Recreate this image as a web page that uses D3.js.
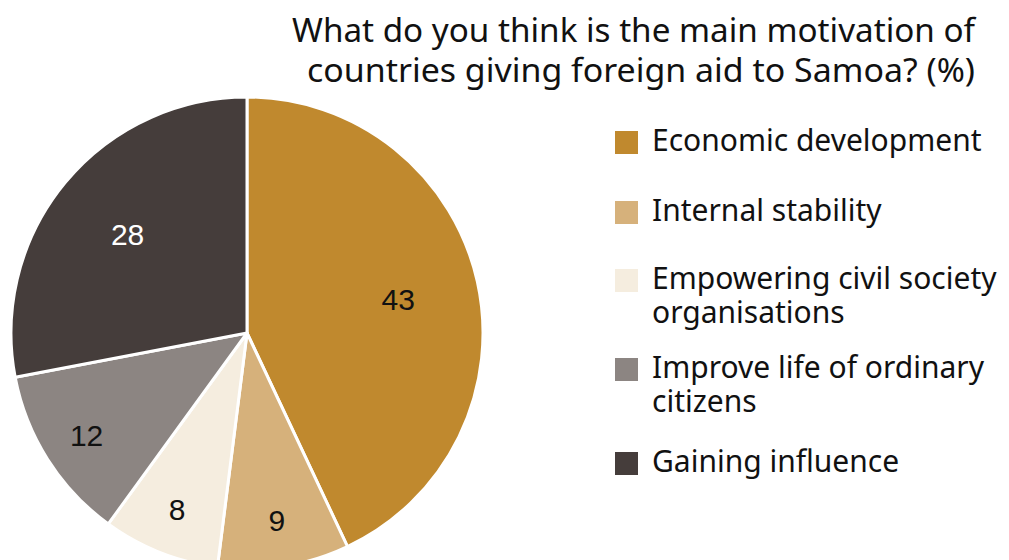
<!DOCTYPE html>
<html>
<head>
<meta charset="utf-8">
<script src="https://cdn.jsdelivr.net/npm/d3@7"></script>
<style>
  html, body { margin: 0; padding: 0; background: #fff; }
  svg { display: block; }
</style>
</head>
<body>
<svg id="chart" width="1009" height="560"></svg>
<script>
// Survey answers (%)
const categories = [
  "Economic development",
  "Internal stability",
  "Empowering civil society organisations",
  "Improve life of ordinary citizens",
  "Gaining influence"
];
const values = [43, 9, 8, 12, 28];
const legendLines = [
  ["Economic development"],
  ["Internal stability"],
  ["Empowering civil society", "organisations"],
  ["Improve life of ordinary", "citizens"],
  ["Gaining influence"]
];
const colors = ["#C0892E", "#D6B17B", "#F5EDDF", "#8C8582", "#453D3B"];
const labelColors = ["#111", "#111", "#111", "#111", "#fff"];
const titleLines = [
  "What do you think is the main motivation of",
  "countries giving foreign aid to Samoa? (%)"
];

const svg = d3.select("#chart");
const cx = 247, cy = 333, radius = 236;

const data = categories.map((c, i) => ({ category: c, value: values[i], i }));

const pie = d3.pie().value(d => d.value).sort(null);
const arc = d3.arc().innerRadius(0).outerRadius(radius);
// small slices carry their label further out
const bigLabelArc = d3.arc().innerRadius(155).outerRadius(155);
const smallLabelArc = d3.arc().innerRadius(190).outerRadius(190);

const color = d3.scaleOrdinal().domain(categories).range(colors);

const g = svg.append("g").attr("transform", `translate(${cx},${cy})`);

const arcs = pie(data);

g.selectAll("path.slice")
  .data(arcs)
  .join("path")
  .attr("class", "slice")
  .attr("d", arc)
  .attr("fill", d => color(d.data.category))
  .attr("stroke", "#fff")
  .attr("stroke-width", 3)
  .attr("stroke-linejoin", "round");

g.selectAll("text.value")
  .data(arcs)
  .join("text")
  .attr("class", "value")
  .attr("transform", d => {
    const a = d.data.value < 15 ? smallLabelArc : bigLabelArc;
    return `translate(${a.centroid(d)})`;
  })
  .attr("text-anchor", "middle")
  .attr("dy", "0.36em")
  .attr("font-family", "'Liberation Sans', Arial, sans-serif")
  .attr("font-size", 30)
  .attr("fill", d => labelColors[d.data.i])
  .text(d => d.data.value);

// Title, right aligned, set slightly condensed
const title = svg.append("g")
  .attr("font-family", "'Noto Sans', sans-serif")
  .attr("font-size", 32)
  .attr("fill", "#111");
const titleWidths = [683, 668];
titleLines.forEach((t, k) => {
  title.append("text")
    .attr("x", 975 - titleWidths[k])
    .attr("y", 42 + k * 40)
    .attr("textLength", titleWidths[k])
    .attr("lengthAdjust", "spacingAndGlyphs")
    .text(t);
});

// Legend
const legendY = d3.scaleOrdinal().domain(categories).range([131, 201, 269, 358, 452]);
const legend = svg.append("g");
const items = legend.selectAll("g.item")
  .data(data)
  .join("g")
  .attr("class", "item")
  .attr("transform", d => `translate(615,${legendY(d.category)})`);

items.append("rect")
  .attr("width", 23)
  .attr("height", 23)
  .attr("fill", d => color(d.category));

items.append("text")
  .attr("font-family", "'Noto Sans', sans-serif")
  .attr("font-size", 30)
  .attr("fill", "#111")
  .each(function(d) {
    const t = d3.select(this);
    legendLines[d.i].forEach((line, k) => {
      t.append("tspan").attr("x", 37).attr("y", 20 + k * 34).text(line);
    });
  });
</script>
</body>
</html>
